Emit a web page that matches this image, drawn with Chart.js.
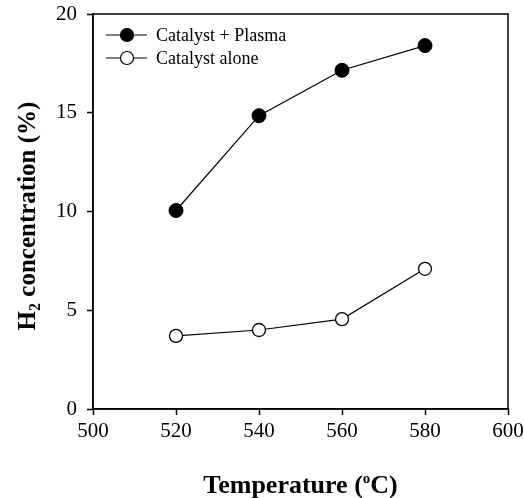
<!DOCTYPE html>
<html lang="en">
<head>
  <meta charset="UTF-8">
  <title>H2 concentration vs temperature</title>
  <script src="https://cdn.jsdelivr.net/npm/chart.js"></script>
  <style>
    html, body { margin: 0; padding: 0; background: #fff; }
    #wrap { width: 524px; height: 498px; }
  </style>
</head>
<body>
<div id="wrap"><canvas id="h2Chart" width="524" height="498"></canvas></div>
<script>
  const temperatures = [520, 540, 560, 580];
  const withPlasma = [10.05, 14.85, 17.15, 18.4];
  const catalystOnly = [3.7, 4.0, 4.55, 7.1];
  const xTicks = [500, 520, 540, 560, 580, 600];
  const yTicks = [0, 5, 10, 15, 20];

  const serif = "'Liberation Serif', 'Times New Roman', serif";

  // frame, legend and axis titles with sub/superscripts
  const decorations = {
    id: 'decorations',
    afterDraw(chart) {
      const { ctx, chartArea: a } = chart;
      ctx.save();
      ctx.strokeStyle = '#000';
      ctx.lineWidth = 1.5;
      ctx.strokeRect(a.left, a.top, a.right - a.left, a.bottom - a.top);

      // legend
      const rows = [
        { y: a.top + 21, fill: '#000', text: 'Catalyst + Plasma' },
        { y: a.top + 44, fill: '#fff', text: 'Catalyst alone' }
      ];
      ctx.font = '18px ' + serif;
      ctx.textBaseline = 'middle';
      rows.forEach(r => {
        ctx.lineWidth = 1.2;
        ctx.beginPath();
        ctx.moveTo(a.left + 13, r.y);
        ctx.lineTo(a.left + 54, r.y);
        ctx.stroke();
        ctx.beginPath();
        ctx.arc(a.left + 34, r.y, 6.5, 0, Math.PI * 2);
        ctx.fillStyle = r.fill;
        ctx.fill();
        ctx.stroke();
        ctx.fillStyle = '#000';
        ctx.fillText(r.text, a.left + 63, r.y + 1);
      });

      // x title
      ctx.textBaseline = 'alphabetic';
      const p1 = 'Temperature (', sup = 'o', p2 = 'C)';
      ctx.font = 'bold 26px ' + serif;
      const w1 = ctx.measureText(p1).width;
      const w3 = ctx.measureText(p2).width;
      ctx.font = 'bold 15px ' + serif;
      const w2 = ctx.measureText(sup).width;
      const x = (a.left + a.right) / 2 - (w1 + w2 + w3) / 2;
      const yb = 493;
      ctx.font = 'bold 26px ' + serif;
      ctx.fillText(p1, x, yb);
      ctx.font = 'bold 15px ' + serif;
      ctx.fillText(sup, x + w1, yb - 10);
      ctx.font = 'bold 26px ' + serif;
      ctx.fillText(p2, x + w1 + w2, yb);

      // y title, rotated
      ctx.translate(35, 216);
      ctx.rotate(-Math.PI / 2);
      const q1 = 'H', sub = '2', q2 = ' concentration (%)';
      ctx.font = 'bold 25px ' + serif;
      const v1 = ctx.measureText(q1).width;
      const v3 = ctx.measureText(q2).width;
      ctx.font = 'bold 16px ' + serif;
      const v2 = ctx.measureText(sub).width;
      const sx = -(v1 + v2 + v3) / 2;
      ctx.font = 'bold 25px ' + serif;
      ctx.fillText(q1, sx, 0);
      ctx.font = 'bold 16px ' + serif;
      ctx.fillText(sub, sx + v1, 5);
      ctx.font = 'bold 25px ' + serif;
      ctx.fillText(q2, sx + v1 + v2, 0);
      ctx.restore();
    }
  };

  const ctx = document.getElementById('h2Chart').getContext('2d');
  new Chart(ctx, {
    type: 'line',
    data: {
      datasets: [
        {
          label: 'Catalyst + Plasma',
          data: temperatures.map((t, i) => ({ x: t, y: withPlasma[i] })),
          borderColor: '#000',
          borderWidth: 1.2,
          pointRadius: 7,
          pointBackgroundColor: '#000',
          pointBorderColor: '#000',
          pointBorderWidth: 1,
          tension: 0
        },
        {
          label: 'Catalyst alone',
          data: temperatures.map((t, i) => ({ x: t, y: catalystOnly[i] })),
          borderColor: '#000',
          borderWidth: 1.2,
          pointRadius: 6.5,
          pointBackgroundColor: '#fff',
          pointBorderColor: '#000',
          pointBorderWidth: 1.3,
          tension: 0
        }
      ]
    },
    options: {
      responsive: false,
      animation: false,
      layout: { padding: { top: 14, right: 16, left: 0, bottom: 0 } },
      plugins: { legend: { display: false }, tooltip: { enabled: false } },
      scales: {
        x: {
          type: 'linear',
          min: 500, max: 600,
          afterBuildTicks: s => { s.ticks = xTicks.map(v => ({ value: v })); },
          afterFit: s => { s.height = 89; s.paddingLeft = 0; s.paddingRight = 0; },
          grid: { drawOnChartArea: false, drawTicks: true, tickLength: 6, tickColor: '#000', tickWidth: 1.5 },
          border: { display: true, color: '#000', width: 1.5 },
          ticks: { color: '#000', font: { family: serif, size: 21 }, padding: 4, maxRotation: 0 }
        },
        y: {
          type: 'linear',
          min: 0, max: 20,
          afterBuildTicks: s => { s.ticks = yTicks.map(v => ({ value: v })); },
          afterFit: s => { s.width = 93; s.paddingTop = 0; s.paddingBottom = 0; },
          grid: { drawOnChartArea: false, drawTicks: true, tickLength: 6, tickColor: '#000', tickWidth: 1.5 },
          border: { display: true, color: '#000', width: 1.5 },
          ticks: { color: '#000', font: { family: serif, size: 21 }, padding: 10 }
        }
      }
    },
    plugins: [decorations]
  });
</script>
</body>
</html>
